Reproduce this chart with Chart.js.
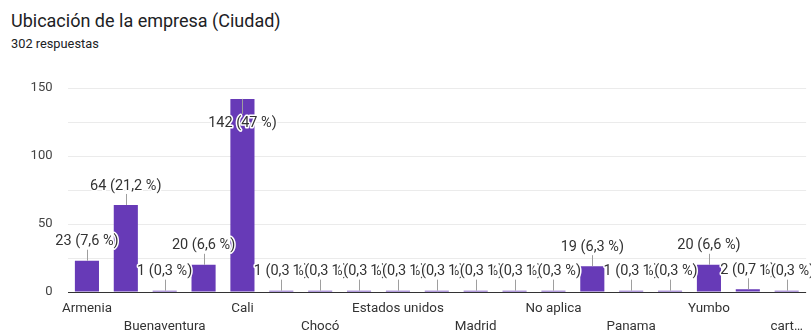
<!DOCTYPE html>
<html>
<head>
<meta charset="utf-8">
<script src="https://cdn.jsdelivr.net/npm/chart.js@4/dist/chart.umd.min.js"></script>
<style>
    body { margin: 0; background: #fff; font-family: Roboto, Arial, sans-serif; }
    #wrap { position: relative; width: 811px; height: 331px; }
    #title { position: absolute; left: 11px; top: 10px; font-size: 18px; line-height: 21px; color: #202124; }
    #subtitle { position: absolute; left: 11px; top: 36px; font-size: 12.8px; line-height: 15px; color: #202124; }
    canvas { position: absolute; left: 0; top: 0; }
</style>
</head>
<body>
<div id="wrap">
    <div id="title">Ubicación de la empresa (Ciudad)</div>
    <div id="subtitle">302 respuestas</div>
    <canvas id="cityChart" width="811" height="331"></canvas>
</div>
<script>
// Data
const cities = ['Armenia', 'Bogotá', 'Buenaventura', 'Buga', 'Cali', 'Cartago', 'Chocó', 'Dagua',
    'Estados unidos', 'Jamundí', 'Madrid', 'Medellín', 'No aplica', 'Palmira', 'Panama', 'Tuluá',
    'Yumbo', 'Zarzal', 'cartagena'];
const responses = [23, 64, 1, 20, 142, 1, 1, 1, 1, 1, 1, 1, 1, 19, 1, 1, 20, 2, 1];
const yTicks = [0, 50, 100, 150];
const totalResponses = 302;

function pctText(v) {
    let p = (v / totalResponses * 100).toFixed(1).replace('.', ',');
    if (p.endsWith(',0')) p = p.slice(0, -2);
    return `${v} (${p} %)`;
}

// value labels with a small leader line, drawn with a white halo like the original
const barLabels = {
    id: 'barLabels',
    afterDatasetsDraw(chart) {
        const ctx = chart.ctx;
        const area = chart.chartArea;
        const meta = chart.getDatasetMeta(0);
        ctx.save();
        ctx.font = '14.5px Roboto, Arial, sans-serif';
        ctx.textAlign = 'center';
        ctx.textBaseline = 'middle';
        meta.data.forEach(function(bar, i) {
            const text = pctText(responses[i]);
            let labelY = bar.y - 19;
            let lineFrom = bar.y, lineTo = bar.y - 11;
            if (labelY - 8 < area.top) {
                labelY = bar.y + 24;
                lineTo = bar.y + 15;
            }
            ctx.strokeStyle = '#9e9e9e';
            ctx.lineWidth = 1;
            ctx.beginPath();
            ctx.moveTo(Math.round(bar.x) + 0.5, lineFrom);
            ctx.lineTo(Math.round(bar.x) + 0.5, lineTo);
            ctx.stroke();
            ctx.strokeStyle = '#fff';
            ctx.lineWidth = 3;
            ctx.lineJoin = 'round';
            ctx.strokeText(text, bar.x, labelY);
            ctx.fillStyle = '#333';
            ctx.fillText(text, bar.x, labelY);
        });
        ctx.restore();
    }
};

function xLabel(i) {
    if (i % 2 === 1) return '';
    let name = cities[i];
    if (i === cities.length - 1 && name.length > 4) name = name.substring(0, 4) + '…';
    return (i % 4 === 0) ? name : ['', name];
}

const ctx = document.getElementById('cityChart').getContext('2d');
new Chart(ctx, {
    type: 'bar',
    data: {
        labels: cities,
        datasets: [{
            data: responses,
            backgroundColor: '#673ab7',
            categoryPercentage: 1,
            barPercentage: 0.62
        }]
    },
    options: {
        responsive: false,
        animation: false,
        layout: { padding: { top: 88, left: 0, right: 2.5, bottom: 0 } },
        plugins: {
            legend: { display: false },
            tooltip: { enabled: false }
        },
        scales: {
            x: {
                grid: { display: false, drawTicks: false },
                border: { display: false },
                ticks: {
                    autoSkip: false,
                    maxRotation: 0,
                    padding: 8,
                    color: '#333',
                    font: { family: 'Roboto, Arial, sans-serif', size: 13.4, lineHeight: 1.32 },
                    callback: function(value, index) { return xLabel(index); }
                },
                afterFit: function(scale) { scale.height = 39; }
            },
            y: {
                min: 0,
                max: 150,
                border: { display: false },
                grid: {
                    drawTicks: false,
                    color: function(c) { return c.tick.value === 0 ? '#333' : '#ebebeb'; }
                },
                ticks: {
                    stepSize: 25,
                    padding: 15,
                    color: '#444',
                    font: { family: 'Roboto, Arial, sans-serif', size: 13 },
                    callback: function(value) { return yTicks.includes(value) ? value : ''; }
                },
                afterFit: function(scale) { scale.width = 67.5; }
            }
        }
    },
    plugins: [barLabels]
});
</script>
</body>
</html>
